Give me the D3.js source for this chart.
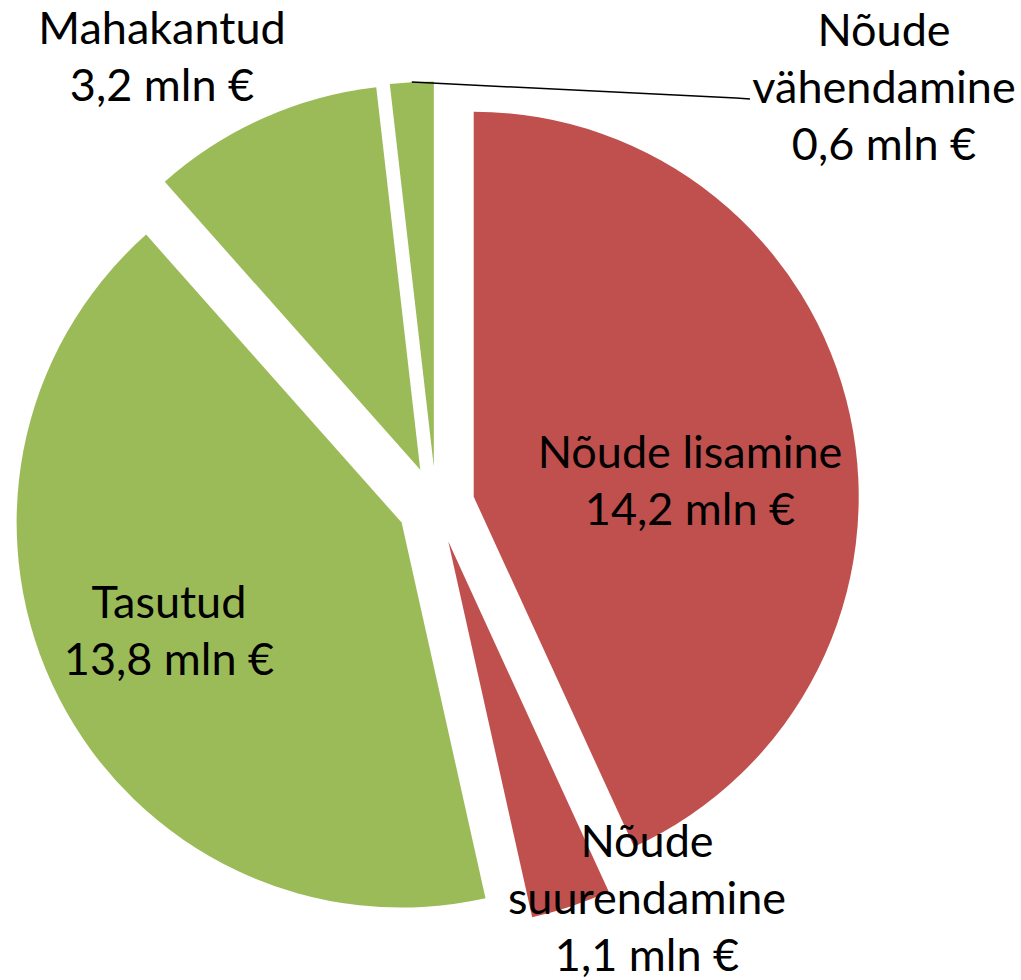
<!DOCTYPE html>
<html>
<head>
<meta charset="utf-8">
<script src="https://cdn.jsdelivr.net/npm/d3@7"></script>
<style>
  html, body { margin: 0; padding: 0; background: #fff; }
  svg text { font-family: Lato, "Open Sans", sans-serif; fill: #000; }
</style>
</head>
<body>
<svg id="chart" width="1021" height="980"></svg>
<script>
// data (mln €), clockwise from 12 o'clock
const categories = ['Nõude lisamine', 'Nõude suurendamine', 'Tasutud', 'Mahakantud', 'Nõude vähendamine'];
const values = [14.2, 1.1, 13.8, 3.2, 0.6];
const sliceColors = ['#C0504D', '#C0504D', '#9BBB59', '#9BBB59', '#9BBB59'];
const labelLines = [
  ['Nõude lisamine', '14,2 mln €'],
  ['Nõude', 'suurendamine', '1,1 mln €'],
  ['Tasutud', '13,8 mln €'],
  ['Mahakantud', '3,2 mln €'],
  ['Nõude', 'vähendamine', '0,6 mln €']
];

// layout
const cx = 436, cy = 505, radius = 385, explode = 38.6;
const fontSize = 45, lineH = 57;
// label anchor: center x and first baseline y
const labelPos = [
  { x: 690, y: 468 },
  { x: 647, y: 857 },
  { x: 169, y: 618 },
  { x: 162, y: 44 },
  { x: 884, y: 46 }
];
const leaderEnd = [750, 99];

const svg = d3.select('#chart');

const pie = d3.pie().sort(null).value(d => d.value);
const arcs = pie(categories.map((c, i) => ({ name: c, value: values[i] })));
const arc = d3.arc().innerRadius(0).outerRadius(radius);

const offset = a => {
  const mid = (a.startAngle + a.endAngle) / 2;
  return [Math.sin(mid) * explode, -Math.cos(mid) * explode];
};

const g = svg.append('g').attr('transform', `translate(${cx},${cy})`);

g.selectAll('path.slice')
  .data(arcs)
  .enter()
  .append('path')
  .attr('class', 'slice')
  .attr('transform', d => `translate(${offset(d)})`)
  .attr('d', arc)
  .attr('fill', (d, i) => sliceColors[i]);

// leader line for the small slice at the top
const small = arcs[4];
const mid = (small.startAngle + small.endAngle) / 2;
const o = offset(small);
const sx = cx + o[0] + Math.sin(mid) * radius;
const sy = cy + o[1] - Math.cos(mid) * radius;
svg.append('path')
  .attr('d', d3.line()([[sx, sy], [leaderEnd[0] - 14, leaderEnd[1] - 1], leaderEnd]))
  .attr('fill', 'none')
  .attr('stroke', '#000')
  .attr('stroke-width', 1.5);

// labels
labelLines.forEach((lines, i) => {
  const t = svg.append('text')
    .attr('text-anchor', 'middle')
    .attr('font-size', fontSize);
  lines.forEach((s, k) => {
    t.append('tspan')
      .attr('x', labelPos[i].x)
      .attr('y', labelPos[i].y + k * lineH)
      .text(s);
  });
});
</script>
</body>
</html>
